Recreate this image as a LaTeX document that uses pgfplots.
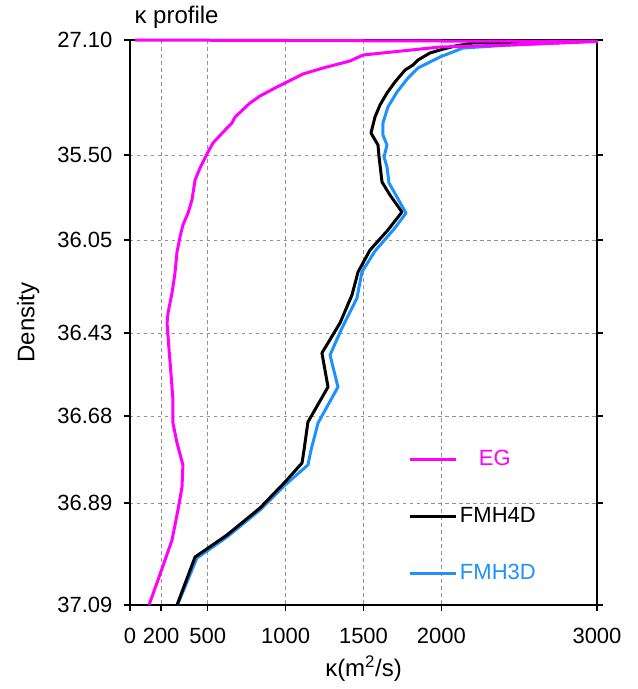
\documentclass[border=0pt]{standalone}
\usepackage{pgfplots}
\pgfplotsset{compat=1.18}
\usepackage{fontspec}
\setmainfont{Liberation Sans}
\definecolor{egcol}{RGB}{255,0,255}
\definecolor{fmhblue}{RGB}{30,144,255}
\begin{document}
\begin{tikzpicture}
\begin{axis}[
  name=ax,
  scale only axis, width=467pt, height=565pt,
  xmin=0, xmax=3000, ymin=40, ymax=605, y dir=reverse,
  clip=false,
  xtick={0,200,500,1000,1500,2000,3000},
  xticklabels={0,200,500,1000,1500,2000,3000},
  ytick={40,155,240,333,416,503,605},
  yticklabels={27.10,35.50,36.05,36.43,36.68,36.89,37.09},
  xtick pos=lower, ytick pos=both,
  tick align=outside, major tick length=6pt,
  tick style={black, line width=1.3pt},
  axis line style={line width=1.6pt},
  grid=major,
  grid style={gray!85, line width=0.8pt, dash pattern=on 3.5pt off 3.5pt},
  ticklabel style={font=\fontsize{22}{26}\selectfont},
  xticklabel style={yshift=-14pt},
  yticklabel style={xshift=-8pt},
  /pgf/number format/assume math mode=true,
  title={κ profile},
  title style={at={(axis description cs:0,1)}, anchor=base west, yshift=11pt, xshift=1pt, font=\fontsize{24}{28}\selectfont},
  xlabel={κ(m\textsuperscript{2}/s)},
  xlabel style={at={(axis description cs:0.5,-0.113)}, anchor=center, font=\fontsize{24}{28}\selectfont},
  ylabel={Density},
  ylabel style={at={(axis description cs:-0.218,0.5)}, anchor=center, font=\fontsize{24}{28}\selectfont},
  legend style={at={(axis description cs:0.597,0.28)}, anchor=north west, draw=none, fill=none,
    font=\fontsize{22}{26}\selectfont, row sep=33pt, inner sep=0pt,
    nodes={inner sep=2pt, text height=16pt, text depth=4pt}},
  legend cell align=left,
  legend image code/.code={\draw[#1, line width=3pt] (0pt,0pt) -- (46pt,0pt);},
  every axis plot/.append style={line width=3pt, line join=round},
]
\addlegendimage{egcol}
\addlegendentry{\textcolor{egcol}{\hspace*{19pt}EG}}
\addlegendimage{black}
\addlegendentry{FMH4D}
\addlegendimage{fmhblue}
\addlegendentry{\textcolor{fmhblue}{FMH3D}}

% FMH3D
\addplot[fmhblue, forget plot] coordinates {
(3000,41) (2441,45) (2139,48) (1991,57) (1927,62) (1850,68) (1786,78) (1715,92)
(1657,107) (1625,123) (1625,135) (1651,145) (1632,157) (1651,167) (1664,183)
(1715,197) (1773,213) (1702,228) (1574,251) (1490,272) (1458,298) (1362,328)
(1285,355) (1336,387) (1208,423) (1163,450) (1143,465) (996,485) (835,510)
(623,537) (430,558) (305,605)
};
% FMH4D
\addplot[black, forget plot] coordinates {
(3000,40.5) (2203,43) (2088,46) (1991,50) (1927,53) (1850,60) (1818,65) (1767,70)
(1702,82) (1651,93) (1606,105) (1574,117) (1548,133) (1593,145) (1600,157)
(1619,182) (1670,195) (1747,212) (1657,230) (1542,250) (1465,272) (1426,295)
(1349,323) (1233,353) (1272,387) (1143,422) (1118,450) (1105,463) (996,482)
(835,508) (623,535) (418,557) (302,605)
};
% EG
\addplot[egcol, forget plot] coordinates {
(32,40) (3000,41.5) (2441,45) (1991,47) (1497,55) (1413,61) (1240,68) (1111,74)
(1009,82) (944,87) (835,96) (771,103) (675,117) (655,123) (623,128) (533,143)
(501,152) (450,168) (418,180) (398,200) (373,213) (340,225) (321,237) (302,252)
(289,273) (270,293) (244,313) (238,323) (251,350) (263,373) (276,400) (276,423)
(302,443) (340,465) (334,487) (308,510) (270,540) (225,560) (173,583) (122,605)
};
\end{axis}
\path[use as bounding box] ([shift={(-130pt,-84pt)}]ax.south west) rectangle ([shift={(41pt,40pt)}]ax.north east);
\end{tikzpicture}
\end{document}
